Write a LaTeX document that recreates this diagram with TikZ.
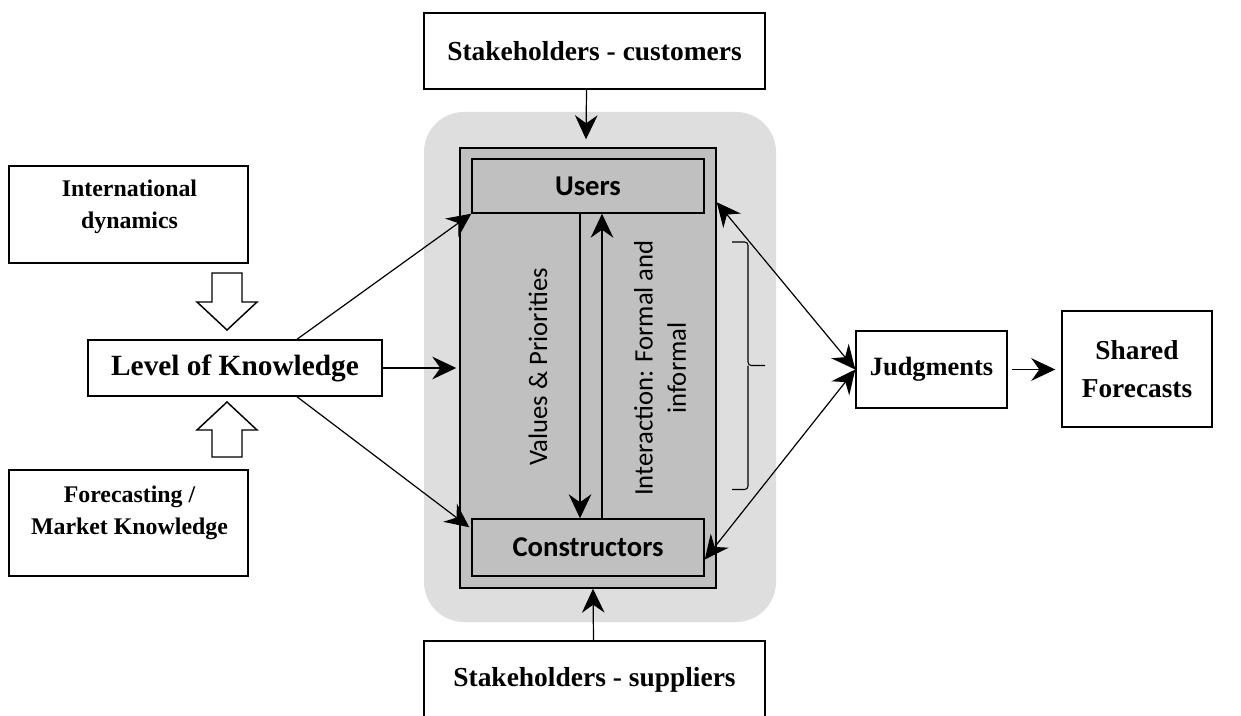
\documentclass[tikz,border=0pt]{standalone}
\usepackage{fontspec}
\setmainfont{Liberation Serif}
\newfontfamily\carl{Carlito}
\usetikzlibrary{arrows.meta,calc}
\definecolor{bggray}{HTML}{DEDEDE}
\definecolor{innergray}{HTML}{C0C0C0}
\begin{document}
\begin{tikzpicture}[x=0.75pt,y=-0.75pt,
  box/.style={draw, line width=1.1pt, fill=white, inner sep=0pt, align=center},
  inbox/.style={draw, line width=1.1pt, fill=innergray, inner sep=0pt,
    font=\carl\bfseries\fontsize{21.5}{26}\selectfont},
  tip/.tip={Stealth[length=18pt,width=17pt,inset=6pt]},
  arr/.style={line width=0.9pt, -tip},
  darr/.style={line width=0.9pt, tip-tip},
  hollow/.style={draw, line width=1.1pt, fill=white, line join=miter}]
\useasboundingbox (0,0) rectangle (1241,716);
\clip (0,0) rectangle (1241,716);

% central block
\node[fill=bggray, rounded corners=30pt, inner sep=0pt,
  minimum width=352*0.75pt, minimum height=510*0.75pt] (bg) at (600,367) {};
\node[inbox, minimum width=256*0.75pt, minimum height=440*0.75pt] (outer) at (588,368) {};
\node[inbox, minimum width=232*0.75pt, minimum height=54*0.75pt] (users) at (588,186) {Users};
\node[inbox, minimum width=232*0.75pt, minimum height=57*0.75pt] (constr) at (588,547.5) {Constructors};

\draw[arr] ($(users.south)+(-8,0)$) -- ($(constr.north)+(-8,0)$);
\draw[arr] ($(constr.north)+(14,0)$) -- ($(users.south)+(14,0)$);
\node[rotate=90, font=\carl\fontsize{20}{25}\selectfont] (vp) at (538,367) {Values \& Priorities};
\node[rotate=90, align=center, font=\carl\fontsize{20}{25}\selectfont] (inter) at (660,368)
  {Interaction: Formal and\\informal};

% brace
\coordinate (bt) at (732,242);
\coordinate (bm) at (748,365.5);
\coordinate (btip) at (765,365.5);
\coordinate (bb) at (732,489.5);
\draw[line width=0.8pt, rounded corners=2.5pt] (bt) -| (bm) -- (btip);
\draw[line width=0.8pt, rounded corners=2.5pt] (bm) |- (bb);

% outer boxes
\node[box, minimum width=341*0.75pt, minimum height=76*0.75pt,
  font=\bfseries\fontsize{20.6}{24}\selectfont] (cust) at (594.5,51) {Stakeholders - customers};
\node[box, minimum width=341*0.75pt, minimum height=78*0.75pt,
  font=\bfseries\fontsize{20.6}{24}\selectfont] (supp) at (594.5,680) {Stakeholders - suppliers};

\node[box, minimum width=239*0.75pt, minimum height=97*0.75pt] (intl) at (128.5,214.5) {};
\node[align=center, font=\bfseries\fontsize{17.9}{24}\selectfont] (intlt) at (129.5,207)
  {International\\dynamics};
\node[box, minimum width=239*0.75pt, minimum height=106*0.75pt] (fore) at (128.5,523) {};
\node[align=center, font=\bfseries\fontsize{17.9}{24}\selectfont] (foret) at (129.5,513)
  {Forecasting /\\Market Knowledge};

\node[box, minimum width=294*0.75pt, minimum height=56*0.75pt,
  font=\bfseries\fontsize{22}{26}\selectfont] (lev) at (235,368) {Level of Knowledge};
\node[box, minimum width=151*0.75pt, minimum height=77*0.75pt,
  font=\bfseries\fontsize{19.8}{24}\selectfont] (judg) at (931.5,369.5) {Judgments};
\node[box, minimum width=150*0.75pt, minimum height=116*0.75pt,
  font=\bfseries\fontsize{20.5}{29}\selectfont] (shared) at (1137,369) {Shared\\Forecasts};

% hollow arrows
\draw[hollow] (212,273) -- (242,273) -- (242,302) -- (257,302) -- (227,330) -- (197,302) -- (212,302) -- cycle;
\draw[hollow] (212,457) -- (242,457) -- (242,430) -- (257,430) -- (227,402) -- (197,430) -- (212,430) -- cycle;

% connectors
\draw[arr] ($(cust.south)+(-8,0)$) -- ($(outer.north)+(-2,-8)$);
\draw[arr] ($(supp.north)+(-1,0)$) -- ($(outer.south)+(5,0)$);
\draw[arr] ($(lev.north)+(62,0)$) -- (users.south west);
\draw[arr] (lev.east) -- ($(outer.west)+(-3,0)$);
\draw[arr] ($(lev.south)+(62,0)$) -- ($(constr.north west)+(-2,9)$);
\draw[darr] (judg.west) -- ($(outer.north east)+(0,55)$);
\draw[darr] (judg.west) -- ($(constr.east)+(0,12)$);
\draw[arr, shorten <=3pt, shorten >=4.5pt] (judg.east) -- (judg.east -| shared.west);
\end{tikzpicture}
\end{document}
